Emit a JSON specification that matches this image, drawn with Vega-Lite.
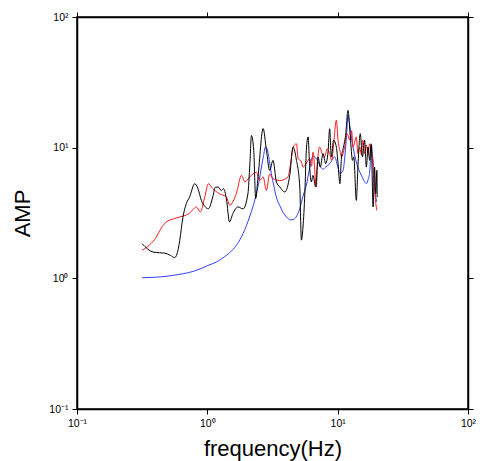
{
  "$schema": "https://vega.github.io/schema/vega-lite/v6.json",
  "width": 391,
  "height": 392,
  "autosize": "none",
  "padding": {"left": 77, "top": 17, "right": 14, "bottom": 52},
  "background": "white",
  "config": {
    "view": {"stroke": "black", "strokeWidth": 1.5},
    "font": "Liberation Sans",
    "axis": {
      "grid": false,
      "domainColor": "black",
      "domainWidth": 1.5,
      "tickColor": "black",
      "tickWidth": 1,
      "tickSize": 5,
      "labelColor": "black",
      "labelFont": "Liberation Sans",
      "labelFontSize": 10.5,
      "labelPadding": 4,
      "titleFont": "Liberation Sans",
      "titleFontSize": 22,
      "titleFontWeight": "normal",
      "titleColor": "black"
    }
  },
  "datasets": {
    "curves": [
      {"s": "model", "f": 0.316, "a": 1.01}, {"s": "model", "f": 0.4, "a": 1.02}, {"s": "model", "f": 0.5, "a": 1.04}, {"s": "model", "f": 0.6, "a": 1.07}, {"s": "model", "f": 0.7, "a": 1.1}, {"s": "model", "f": 0.8, "a": 1.14}, {"s": "model", "f": 0.9, "a": 1.19}, {"s": "model", "f": 1.0, "a": 1.25}, {"s": "model", "f": 1.17, "a": 1.33}, {"s": "model", "f": 1.35, "a": 1.46}, {"s": "model", "f": 1.57, "a": 1.66}, {"s": "model", "f": 1.75, "a": 1.92}, {"s": "model", "f": 1.88, "a": 2.2}, {"s": "model", "f": 2.0, "a": 2.55}, {"s": "model", "f": 2.11, "a": 2.95}, {"s": "model", "f": 2.25, "a": 3.6}, {"s": "model", "f": 2.38, "a": 4.45}, {"s": "model", "f": 2.5, "a": 5.6}, {"s": "model", "f": 2.6, "a": 7.1}, {"s": "model", "f": 2.7, "a": 8.7}, {"s": "model", "f": 2.79, "a": 10.1}, {"s": "model", "f": 2.86, "a": 9.9}, {"s": "model", "f": 2.92, "a": 9.2}, {"s": "model", "f": 3.0, "a": 7.8}, {"s": "model", "f": 3.1, "a": 6.3}, {"s": "model", "f": 3.24, "a": 5.1}, {"s": "model", "f": 3.38, "a": 4.2}, {"s": "model", "f": 3.6, "a": 3.6}, {"s": "model", "f": 3.81, "a": 3.2}, {"s": "model", "f": 4.05, "a": 2.95}, {"s": "model", "f": 4.34, "a": 2.8}, {"s": "model", "f": 4.6, "a": 2.83}, {"s": "model", "f": 4.85, "a": 3.0}, {"s": "model", "f": 5.12, "a": 3.42}, {"s": "model", "f": 5.4, "a": 4.2}, {"s": "model", "f": 5.75, "a": 5.15}, {"s": "model", "f": 6.1, "a": 7.0}, {"s": "model", "f": 6.47, "a": 8.6}, {"s": "model", "f": 6.75, "a": 8.4}, {"s": "model", "f": 7.07, "a": 7.8}, {"s": "model", "f": 7.4, "a": 7.1}, {"s": "model", "f": 7.73, "a": 6.84}, {"s": "model", "f": 8.1, "a": 7.1}, {"s": "model", "f": 8.7, "a": 7.55}, {"s": "model", "f": 9.5, "a": 8.5}, {"s": "model", "f": 9.9, "a": 7.5}, {"s": "model", "f": 10.4, "a": 6.34}, {"s": "model", "f": 11.0, "a": 6.7}, {"s": "model", "f": 11.4, "a": 9.0}, {"s": "model", "f": 11.7, "a": 12.4}, {"s": "model", "f": 12.0, "a": 17.7}, {"s": "model", "f": 12.3, "a": 15.5}, {"s": "model", "f": 12.8, "a": 11.7}, {"s": "model", "f": 13.3, "a": 9.4}, {"s": "model", "f": 13.9, "a": 7.78}, {"s": "model", "f": 14.5, "a": 6.8}, {"s": "model", "f": 15.2, "a": 6.15}, {"s": "model", "f": 15.9, "a": 5.6}, {"s": "model", "f": 16.6, "a": 5.31}, {"s": "model", "f": 17.2, "a": 5.8}, {"s": "model", "f": 17.6, "a": 6.5}, {"s": "model", "f": 17.9, "a": 8.5}, {"s": "model", "f": 18.2, "a": 10.4}, {"s": "model", "f": 18.5, "a": 8.5}, {"s": "model", "f": 18.9, "a": 5.8}, {"s": "model", "f": 19.4, "a": 4.5}, {"s": "model", "f": 20.0, "a": 3.85},

      {"s": "ratio", "f": 0.316, "a": 1.64}, {"s": "ratio", "f": 0.36, "a": 1.8}, {"s": "ratio", "f": 0.406, "a": 2.07}, {"s": "ratio", "f": 0.44, "a": 2.4}, {"s": "ratio", "f": 0.484, "a": 2.7}, {"s": "ratio", "f": 0.55, "a": 2.85}, {"s": "ratio", "f": 0.614, "a": 2.95}, {"s": "ratio", "f": 0.69, "a": 3.05}, {"s": "ratio", "f": 0.731, "a": 3.16}, {"s": "ratio", "f": 0.776, "a": 3.36}, {"s": "ratio", "f": 0.824, "a": 3.52}, {"s": "ratio", "f": 0.883, "a": 3.22}, {"s": "ratio", "f": 0.955, "a": 4.19}, {"s": "ratio", "f": 1.02, "a": 5.3}, {"s": "ratio", "f": 1.1, "a": 4.86}, {"s": "ratio", "f": 1.24, "a": 4.44}, {"s": "ratio", "f": 1.4, "a": 4.19}, {"s": "ratio", "f": 1.49, "a": 3.62}, {"s": "ratio", "f": 1.58, "a": 3.9}, {"s": "ratio", "f": 1.67, "a": 4.46}, {"s": "ratio", "f": 1.83, "a": 6.15}, {"s": "ratio", "f": 1.94, "a": 5.47}, {"s": "ratio", "f": 2.12, "a": 5.98}, {"s": "ratio", "f": 2.38, "a": 6.5}, {"s": "ratio", "f": 2.52, "a": 5.6}, {"s": "ratio", "f": 2.68, "a": 5.98}, {"s": "ratio", "f": 2.84, "a": 4.7}, {"s": "ratio", "f": 3.01, "a": 6.3}, {"s": "ratio", "f": 3.19, "a": 5.8}, {"s": "ratio", "f": 3.59, "a": 5.6}, {"s": "ratio", "f": 4.16, "a": 5.98}, {"s": "ratio", "f": 4.35, "a": 7.5}, {"s": "ratio", "f": 4.55, "a": 10.1}, {"s": "ratio", "f": 4.83, "a": 10.7}, {"s": "ratio", "f": 4.97, "a": 8.3}, {"s": "ratio", "f": 5.27, "a": 7.78}, {"s": "ratio", "f": 5.42, "a": 7.1}, {"s": "ratio", "f": 5.75, "a": 7.63}, {"s": "ratio", "f": 6.1, "a": 8.24}, {"s": "ratio", "f": 6.3, "a": 7.2}, {"s": "ratio", "f": 6.47, "a": 9.27}, {"s": "ratio", "f": 6.86, "a": 5.0}, {"s": "ratio", "f": 7.0, "a": 7.5}, {"s": "ratio", "f": 7.27, "a": 10.1}, {"s": "ratio", "f": 7.6, "a": 9.0}, {"s": "ratio", "f": 7.94, "a": 8.5}, {"s": "ratio", "f": 8.3, "a": 9.8}, {"s": "ratio", "f": 8.68, "a": 9.0}, {"s": "ratio", "f": 9.0, "a": 8.0}, {"s": "ratio", "f": 9.3, "a": 10.5}, {"s": "ratio", "f": 9.77, "a": 16.2}, {"s": "ratio", "f": 10.07, "a": 11.4}, {"s": "ratio", "f": 10.4, "a": 9.5}, {"s": "ratio", "f": 10.7, "a": 8.5}, {"s": "ratio", "f": 11.3, "a": 10.1}, {"s": "ratio", "f": 11.8, "a": 12.8}, {"s": "ratio", "f": 12.4, "a": 11.4}, {"s": "ratio", "f": 12.8, "a": 13.5}, {"s": "ratio", "f": 13.1, "a": 10.1}, {"s": "ratio", "f": 13.5, "a": 11.0}, {"s": "ratio", "f": 13.9, "a": 12.1}, {"s": "ratio", "f": 14.3, "a": 9.0}, {"s": "ratio", "f": 14.8, "a": 10.1}, {"s": "ratio", "f": 15.2, "a": 8.8}, {"s": "ratio", "f": 15.6, "a": 11.4}, {"s": "ratio", "f": 16.1, "a": 9.0}, {"s": "ratio", "f": 16.6, "a": 10.5}, {"s": "ratio", "f": 17.1, "a": 8.8}, {"s": "ratio", "f": 17.6, "a": 10.7}, {"s": "ratio", "f": 18.0, "a": 9.6}, {"s": "ratio", "f": 18.5, "a": 8.5}, {"s": "ratio", "f": 18.9, "a": 7.0}, {"s": "ratio", "f": 19.2, "a": 5.0}, {"s": "ratio", "f": 19.6, "a": 3.8}, {"s": "ratio", "f": 20.0, "a": 3.31},

      {"s": "obs", "f": 0.316, "a": 1.84}, {"s": "obs", "f": 0.383, "a": 1.59}, {"s": "obs", "f": 0.43, "a": 1.57}, {"s": "obs", "f": 0.471, "a": 1.56}, {"s": "obs", "f": 0.52, "a": 1.5}, {"s": "obs", "f": 0.561, "a": 1.44}, {"s": "obs", "f": 0.6, "a": 1.7}, {"s": "obs", "f": 0.614, "a": 1.95}, {"s": "obs", "f": 0.65, "a": 2.94}, {"s": "obs", "f": 0.69, "a": 3.73}, {"s": "obs", "f": 0.731, "a": 4.19}, {"s": "obs", "f": 0.8, "a": 5.3}, {"s": "obs", "f": 0.847, "a": 4.86}, {"s": "obs", "f": 0.9, "a": 3.95}, {"s": "obs", "f": 0.955, "a": 3.56}, {"s": "obs", "f": 1.02, "a": 3.41}, {"s": "obs", "f": 1.1, "a": 4.19}, {"s": "obs", "f": 1.15, "a": 4.97}, {"s": "obs", "f": 1.21, "a": 5.0}, {"s": "obs", "f": 1.28, "a": 4.7}, {"s": "obs", "f": 1.33, "a": 4.86}, {"s": "obs", "f": 1.4, "a": 4.07}, {"s": "obs", "f": 1.48, "a": 2.7}, {"s": "obs", "f": 1.57, "a": 3.13}, {"s": "obs", "f": 1.72, "a": 3.52}, {"s": "obs", "f": 1.88, "a": 3.4}, {"s": "obs", "f": 2.05, "a": 4.46}, {"s": "obs", "f": 2.12, "a": 7.5}, {"s": "obs", "f": 2.18, "a": 12.4}, {"s": "obs", "f": 2.27, "a": 9.55}, {"s": "obs", "f": 2.35, "a": 4.08}, {"s": "obs", "f": 2.45, "a": 5.98}, {"s": "obs", "f": 2.68, "a": 14.0}, {"s": "obs", "f": 2.84, "a": 9.55}, {"s": "obs", "f": 3.01, "a": 6.7}, {"s": "obs", "f": 3.19, "a": 8.0}, {"s": "obs", "f": 3.39, "a": 5.47}, {"s": "obs", "f": 3.6, "a": 5.0}, {"s": "obs", "f": 3.93, "a": 4.58}, {"s": "obs", "f": 4.29, "a": 6.15}, {"s": "obs", "f": 4.55, "a": 10.1}, {"s": "obs", "f": 4.83, "a": 8.0}, {"s": "obs", "f": 5.12, "a": 5.0}, {"s": "obs", "f": 5.27, "a": 1.96}, {"s": "obs", "f": 5.42, "a": 2.47}, {"s": "obs", "f": 5.6, "a": 4.5}, {"s": "obs", "f": 5.75, "a": 9.55}, {"s": "obs", "f": 5.93, "a": 12.1}, {"s": "obs", "f": 6.1, "a": 7.1}, {"s": "obs", "f": 6.28, "a": 5.46}, {"s": "obs", "f": 6.47, "a": 6.14}, {"s": "obs", "f": 6.78, "a": 5.0}, {"s": "obs", "f": 7.07, "a": 8.5}, {"s": "obs", "f": 7.36, "a": 7.1}, {"s": "obs", "f": 7.72, "a": 9.0}, {"s": "obs", "f": 8.09, "a": 7.55}, {"s": "obs", "f": 8.44, "a": 9.27}, {"s": "obs", "f": 8.68, "a": 13.96}, {"s": "obs", "f": 8.94, "a": 8.5}, {"s": "obs", "f": 9.31, "a": 11.4}, {"s": "obs", "f": 9.77, "a": 10.1}, {"s": "obs", "f": 10.07, "a": 7.55}, {"s": "obs", "f": 10.4, "a": 5.3}, {"s": "obs", "f": 10.7, "a": 8.5}, {"s": "obs", "f": 11.0, "a": 9.8}, {"s": "obs", "f": 11.5, "a": 12.4}, {"s": "obs", "f": 12.0, "a": 19.3}, {"s": "obs", "f": 12.5, "a": 12.1}, {"s": "obs", "f": 13.0, "a": 8.0}, {"s": "obs", "f": 13.3, "a": 8.5}, {"s": "obs", "f": 13.9, "a": 3.95}, {"s": "obs", "f": 14.3, "a": 7.1}, {"s": "obs", "f": 14.9, "a": 12.8}, {"s": "obs", "f": 15.5, "a": 8.5}, {"s": "obs", "f": 16.1, "a": 11.4}, {"s": "obs", "f": 16.6, "a": 7.1}, {"s": "obs", "f": 17.1, "a": 10.1}, {"s": "obs", "f": 17.6, "a": 8.0}, {"s": "obs", "f": 18.1, "a": 10.7}, {"s": "obs", "f": 18.7, "a": 3.52}, {"s": "obs", "f": 19.2, "a": 7.1}, {"s": "obs", "f": 19.6, "a": 4.44}, {"s": "obs", "f": 20.0, "a": 6.71}, {"s": "obs", "f": 20.1, "a": 4.19}
    ]
  },
  "data": {"name": "curves"},
  "resolve": {"axis": {"x": "independent", "y": "independent"}},
  "layer": [
    {
      "mark": {"type": "line", "strokeWidth": 1, "interpolate": "monotone", "clip": true},
      "encoding": {
        "x": {
          "field": "f", "type": "quantitative",
          "scale": {"type": "log", "domain": [0.1, 100], "nice": false},
          "axis": {
            "orient": "bottom",
            "values": [0.1, 1, 10, 100],
            "labelExpr": "datum.value < 0.5 ? '10⁻¹' : datum.value < 5 ? '10⁰' : datum.value < 50 ? '10¹' : '10²'",
            "labelFlush": false,
            "title": "frequency(Hz)",
            "titlePadding": 10
          }
        },
        "y": {
          "field": "a", "type": "quantitative",
          "scale": {"type": "log", "domain": [0.1, 100], "nice": false},
          "axis": {
            "orient": "left",
            "values": [0.1, 1, 10, 100],
            "labelExpr": "datum.value < 0.5 ? '10⁻¹' : datum.value < 5 ? '10⁰' : datum.value < 50 ? '10¹' : '10²'",
            "labelFlush": false,
            "title": "AMP",
            "titlePadding": 14
          }
        },
        "color": {
          "field": "s", "type": "nominal",
          "scale": {"domain": ["model", "ratio", "obs"], "range": ["#2f3fff", "#ff1a1a", "#000000"]},
          "legend": null
        },
        "order": {"field": "f", "type": "quantitative"}
      }
    },
    {
      "mark": {"type": "line", "opacity": 0},
      "encoding": {
        "x": {
          "field": "f", "type": "quantitative",
          "axis": {"orient": "top", "values": [0.1, 1, 10, 100], "labels": false, "title": null}
        },
        "y": {
          "field": "a", "type": "quantitative",
          "axis": {"orient": "right", "values": [0.1, 1, 10, 100], "labels": false, "title": null}
        }
      }
    }
  ]
}
